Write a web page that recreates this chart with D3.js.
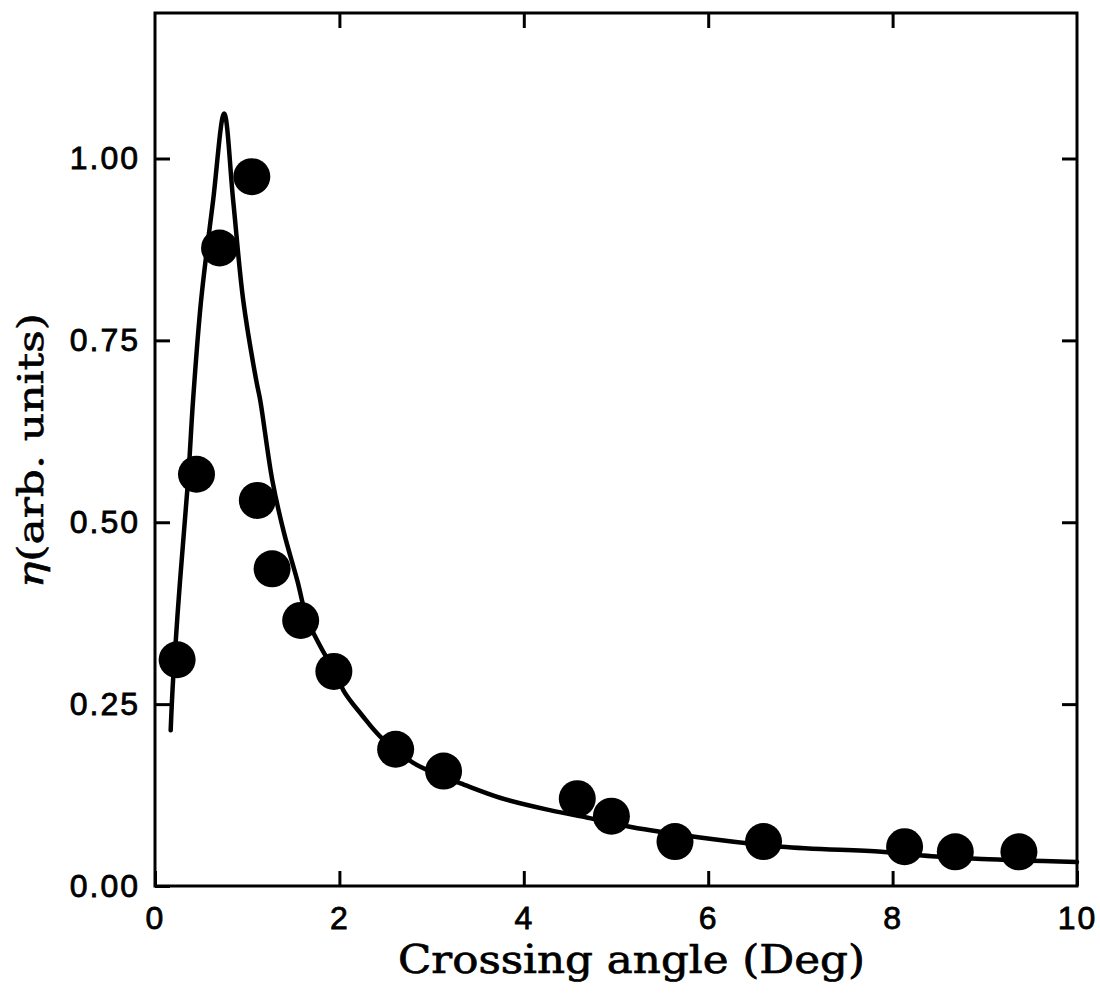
<!DOCTYPE html>
<html>
<head>
<meta charset="utf-8">
<script src="https://cdn.jsdelivr.net/npm/d3@7"></script>
<style>
  html, body { margin: 0; padding: 0; background: #fff; }
  svg { display: block; }
</style>
</head>
<body>
<svg id="chart" width="1100" height="993"></svg>
<script>
// Measured diffraction efficiency vs. crossing angle
const angleDeg = [0.24, 0.45, 0.70, 1.05, 1.11, 1.27, 1.58, 1.94, 2.61, 3.13, 4.58, 4.95, 5.64, 6.60, 8.13, 8.68, 9.37];
const etaMeasured = [0.311, 0.566, 0.877, 0.975, 0.530, 0.436, 0.365, 0.295, 0.188, 0.158, 0.120, 0.096, 0.061, 0.061, 0.054, 0.047, 0.047];

// Theoretical curve
const curveAngle = [0.17, 0.196, 0.272, 0.359, 0.413, 0.50, 0.63, 0.75, 0.848, 0.957, 1.098, 1.141, 1.272, 1.40, 1.543, 1.652, 1.717, 1.848, 1.957, 2.043, 2.25, 2.446, 2.793, 3.05, 3.315, 3.75, 4.293, 4.728, 5.163, 5.891, 6.793, 7.88, 8.424, 8.967, 10.0];
const curveEta = [0.214, 0.283, 0.420, 0.558, 0.668, 0.805, 0.942, 1.062, 0.942, 0.805, 0.695, 0.668, 0.558, 0.485, 0.420, 0.365, 0.348, 0.317, 0.297, 0.269, 0.234, 0.205, 0.170, 0.154, 0.141, 0.121, 0.104, 0.093, 0.081, 0.067, 0.054, 0.047, 0.041, 0.037, 0.033];

const xTicks = [0, 2, 4, 6, 8, 10];
const yTicks = [0, 0.25, 0.5, 0.75, 1.0];
const xLabel = "Crossing angle (Deg)";
const yLabelSymbol = "η";
const yLabelRest = "(arb. units)";

const svg = d3.select("#chart");
const x = d3.scaleLinear().domain([0, 10]).range([155, 1077]);
const y = d3.scaleLinear().domain([0, 1.2]).range([886, 13]);

svg.append("rect").attr("width", 1100).attr("height", 993).attr("fill", "#fff");

const tickLen = 15;
const tickFont = "'Liberation Sans', Arial, sans-serif";

function styleAxis(g) {
  g.select(".domain").remove();
  g.selectAll(".tick line").attr("stroke", "#000").attr("stroke-width", 3);
  g.selectAll(".tick text")
    .attr("fill", "#000")
    .attr("stroke", "#000")
    .attr("stroke-width", 0.8)
    .style("font-family", tickFont)
    .style("font-size", "32px")
    .style("letter-spacing", "2px");
}

// bottom axis with labels
svg.append("g")
  .attr("transform", `translate(0,${y(0)})`)
  .call(d3.axisBottom(x).tickValues(xTicks).tickSizeInner(-tickLen).tickSizeOuter(0).tickPadding(20).tickFormat(d3.format("d")))
  .call(styleAxis);

// top axis, ticks only
svg.append("g")
  .attr("transform", `translate(0,${y(1.2)})`)
  .call(d3.axisTop(x).tickValues(xTicks.slice(1, -1)).tickSizeInner(-tickLen).tickSizeOuter(0).tickFormat(""))
  .call(styleAxis);

// left axis with labels
svg.append("g")
  .attr("transform", `translate(${x(0)},0)`)
  .call(d3.axisLeft(y).tickValues(yTicks).tickSizeInner(-tickLen).tickSizeOuter(0).tickPadding(15).tickFormat(d3.format(".2f")))
  .call(styleAxis);

// right axis, ticks only
svg.append("g")
  .attr("transform", `translate(${x(10)},0)`)
  .call(d3.axisRight(y).tickValues(yTicks.slice(1)).tickSizeInner(-tickLen).tickSizeOuter(0).tickFormat(""))
  .call(styleAxis);

// frame
svg.append("rect")
  .attr("x", x(0)).attr("y", y(1.2))
  .attr("width", x(10) - x(0)).attr("height", y(0) - y(1.2))
  .attr("fill", "none").attr("stroke", "#000").attr("stroke-width", 3);

// theory curve
const pts = curveAngle.map((a, i) => [a, curveEta[i]]);
svg.append("path")
  .datum(pts)
  .attr("fill", "none")
  .attr("stroke", "#000")
  .attr("stroke-width", 4.5)
  .attr("stroke-linejoin", "round")
  .attr("stroke-linecap", "round")
  .attr("d", d3.line().x(d => x(d[0])).y(d => y(d[1])).curve(d3.curveCatmullRom.alpha(0.5)));

// measured points
svg.append("g").selectAll("circle")
  .data(angleDeg.map((a, i) => [a, etaMeasured[i]]))
  .join("circle")
  .attr("cx", d => x(d[0]))
  .attr("cy", d => y(d[1]))
  .attr("r", 18.5)
  .attr("fill", "#000");

// axis titles in a slab serif, packed like typewriter text
const titleFont = "'DejaVu Serif', 'Liberation Serif', serif";
svg.append("text")
  .attr("x", 398).attr("y", 973)
  .attr("textLength", 467).attr("lengthAdjust", "spacingAndGlyphs")
  .style("font-family", titleFont)
  .style("font-size", "39px")
  .attr("fill", "#000").attr("stroke", "#000").attr("stroke-width", 0.7)
  .text(xLabel);

const yl = svg.append("text")
  .attr("transform", "translate(43,588) rotate(-90)")
  .attr("x", 0).attr("y", 0)
  .attr("textLength", 275).attr("lengthAdjust", "spacingAndGlyphs")
  .style("font-family", titleFont)
  .style("font-size", "36px")
  .attr("fill", "#000").attr("stroke", "#000").attr("stroke-width", 0.6);
yl.append("tspan")
  .style("font-style", "italic")
  .text(yLabelSymbol);
yl.append("tspan").text(yLabelRest);
</script>
</body>
</html>
